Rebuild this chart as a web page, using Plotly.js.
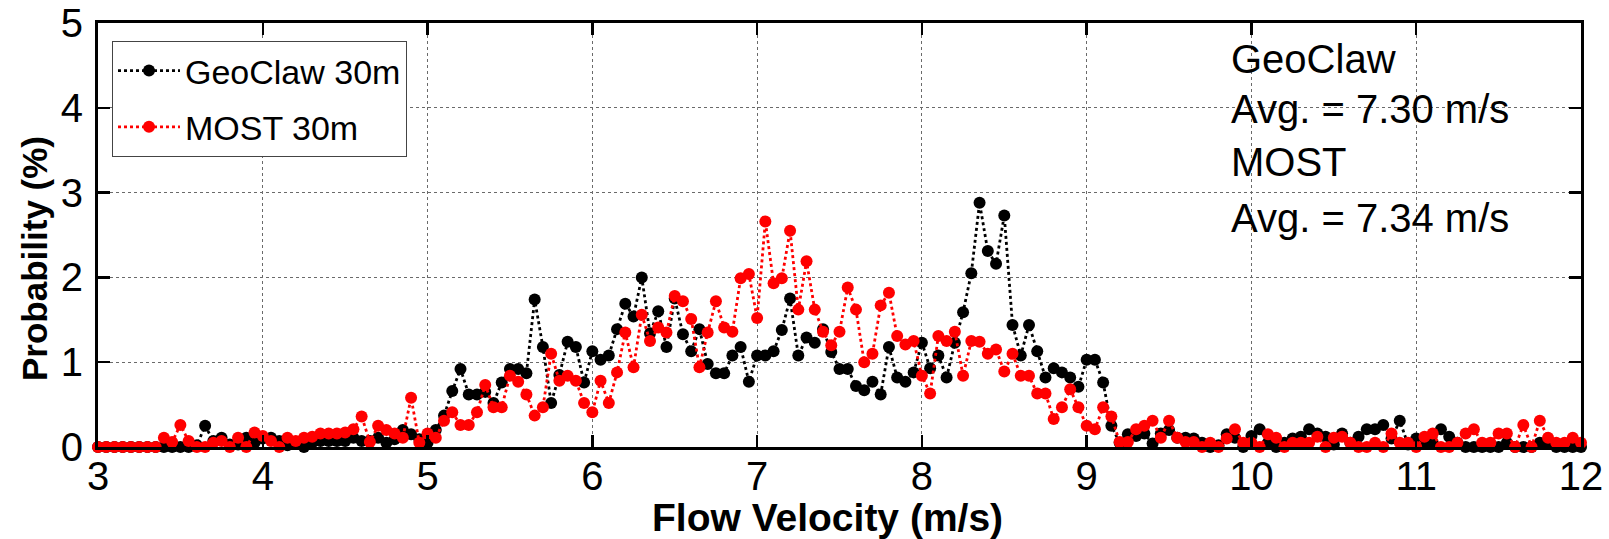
<!DOCTYPE html>
<html>
<head>
<meta charset="utf-8">
<script src="https://cdn.plot.ly/plotly-3.0.1.min.js"></script>
<style>
  html, body { margin: 0; padding: 0; background: #fff; }
  #chart { width: 1609px; height: 539px; }
</style>
</head>
<body>
<div id="chart"></div>
<script>
// Flow velocity bins (m/s)
const velocity = [
  3.00,3.05,3.10,3.15,3.20,3.25,3.30,3.35,3.40,3.45,3.50,3.55,3.60,3.65,3.70,3.75,3.80,3.85,3.90,3.95,
  4.00,4.05,4.10,4.15,4.20,4.25,4.30,4.35,4.40,4.45,4.50,4.55,4.60,4.65,4.70,4.75,4.80,4.85,4.90,4.95,
  5.00,5.05,5.10,5.15,5.20,5.25,5.30,5.35,5.40,5.45,5.50,5.55,5.60,5.65,5.70,5.75,5.80,5.85,5.90,5.95,
  6.00,6.05,6.10,6.15,6.20,6.25,6.30,6.35,6.40,6.45,6.50,6.55,6.60,6.65,6.70,6.75,6.80,6.85,6.90,6.95,
  7.00,7.05,7.10,7.15,7.20,7.25,7.30,7.35,7.40,7.45,7.50,7.55,7.60,7.65,7.70,7.75,7.80,7.85,7.90,7.95,
  8.00,8.05,8.10,8.15,8.20,8.25,8.30,8.35,8.40,8.45,8.50,8.55,8.60,8.65,8.70,8.75,8.80,8.85,8.90,8.95,
  9.00,9.05,9.10,9.15,9.20,9.25,9.30,9.35,9.40,9.45,9.50,9.55,9.60,9.65,9.70,9.75,9.80,9.85,9.90,9.95,
  10.00,10.05,10.10,10.15,10.20,10.25,10.30,10.35,10.40,10.45,10.50,10.55,10.60,10.65,10.70,10.75,10.80,10.85,10.90,10.95,
  11.00,11.05,11.10,11.15,11.20,11.25,11.30,11.35,11.40,11.45,11.50,11.55,11.60,11.65,11.70,11.75,11.80,11.85,11.90,11.95,
  12.00
];

// GeoClaw 30m probability (%)
const geoclaw = [
  0,0,0,0,0,0,0,0,0,0,0,0,0.02,0.25,0.07,0.11,0.03,0.03,0.11,0.05,
  0.10,0.11,0.07,0.02,0.05,0,0.05,0.07,0.07,0.07,0.07,0.11,0.07,0.07,0.11,0.05,0.09,0.20,0.15,0.09,
  0.05,0.20,0.37,0.66,0.92,0.62,0.62,0.65,0.52,0.76,0.92,0.92,0.87,1.74,1.18,0.52,0.85,1.24,1.18,0.76,
  1.13,1.03,1.08,1.39,1.69,1.54,2.00,1.34,1.60,1.18,1.75,1.33,1.13,1.39,0.98,0.87,0.87,1.08,1.18,0.77,
  1.08,1.08,1.13,1.38,1.75,1.08,1.29,1.23,1.39,1.12,0.92,0.92,0.72,0.67,0.77,0.62,1.18,0.82,0.77,0.88,
  1.23,0.93,1.08,0.82,1.23,1.59,2.05,2.88,2.31,2.16,2.73,1.44,1.08,1.44,1.13,0.82,0.93,0.88,0.82,0.71,
  1.03,1.03,0.76,0.25,0.05,0.15,0.13,0.16,0.04,0.16,0.20,0.11,0.11,0.10,0.05,0,0.02,0.15,0.11,0,
  0.13,0.21,0.05,0,0.05,0.10,0.12,0.21,0.16,0.12,0.03,0.16,0.05,0.12,0.21,0.21,0.26,0.10,0.31,0.03,
  0.10,0.05,0.05,0.21,0.12,0.05,0,0,0,0,0,0.05,0,0,0,0.05,0.05,0,0,0,
  0
];

// MOST 30m probability (%)
const most = [
  0,0,0,0,0,0,0,0,0.11,0.06,0.26,0.07,0,0,0.05,0.07,0,0.11,0,0.17,
  0.13,0.07,0,0.11,0.07,0.11,0.12,0.16,0.16,0.16,0.17,0.21,0.36,0.06,0.25,0.20,0.16,0.11,0.58,0.05,
  0.16,0.11,0.31,0.41,0.26,0.26,0.41,0.73,0.47,0.47,0.84,0.77,0.62,0.37,0.47,1.10,0.78,0.84,0.78,0.52,
  0.41,0.78,0.52,0.88,1.35,0.94,1.56,1.25,1.41,1.35,1.78,1.72,1.51,0.94,1.35,1.72,1.41,1.36,1.99,2.04,
  1.52,2.66,1.93,1.99,2.55,1.62,2.19,1.62,1.36,1.20,1.36,1.88,1.62,1.00,1.10,1.67,1.82,1.31,1.21,1.25,
  0.84,0.63,1.31,1.25,1.36,0.84,1.25,1.24,1.10,1.15,0.89,1.10,0.84,0.84,0.63,0.63,0.33,0.47,0.68,0.47,
  0.25,0.21,0.47,0.36,0.06,0.06,0.21,0.25,0.31,0.11,0.31,0.11,0.06,0.06,0,0.05,0,0.10,0.21,0.05,
  0.05,0,0.15,0.11,0,0.05,0.05,0.05,0.12,0,0.11,0.12,0.05,0,0,0.05,0,0.16,0.05,0.05,
  0,0.12,0.16,0,0,0.05,0.16,0.21,0.05,0.05,0.16,0.16,0,0.26,0,0.31,0.11,0.05,0.05,0.11,
  0.05
];

const seriesNames = ['GeoClaw 30m', 'MOST 30m'];
const seriesColors = ['#000000', '#ff0000'];
const xTicks = [3,4,5,6,7,8,9,10,11,12];
const yTicks = [0,1,2,3,4,5];
const noteLines = ['GeoClaw', 'Avg. = 7.30 m/s', 'MOST', 'Avg. = 7.34 m/s'];
const xTitle = 'Flow Velocity (m/s)';
const yTitle = 'Probability (%)';

const FONT = 'Arial, "Liberation Sans", Helvetica, sans-serif';

// plot area geometry (px)
const L = 98, R = 28, T = 23, B = 92, W = 1609, H = 539;
const PW = W - L - R, PH = H - T - B;
const px = v => (v - L) / PW;          // page x -> paper x
const py = v => (H - B - v) / PH;      // page y -> paper y

function mkTrace(y, i) {
  return {
    x: velocity, y: y, type: 'scatter', mode: 'lines+markers',
    name: seriesNames[i], legendgroup: 'g' + i,
    line: { color: seriesColors[i], width: 2.8, dash: 'dot' },
    marker: { color: seriesColors[i], size: 12, line: { width: 0 } },
    cliponaxis: false
  };
}

const traces = [mkTrace(geoclaw, 0), mkTrace(most, 1)];

const axisCommon = {
  showline: true, linecolor: '#000', linewidth: 3, mirror: 'ticks',
  ticks: 'inside', ticklen: 12, tickwidth: 2.5, tickcolor: '#000',
  showgrid: true, gridcolor: '#6a6a6a', gridwidth: 1, griddash: 'dot',
  zeroline: false, tickfont: { family: FONT, size: 40, color: '#000' }
};

const annotations = noteLines.map((t, k) => ({
  text: t, xref: 'paper', yref: 'paper',
  x: px(1229), xanchor: 'left',
  y: py([59, 109, 162, 218][k]), yanchor: 'middle',
  showarrow: false, font: { family: FONT, size: 40, color: '#000' }
}));
annotations.push({
  text: '<b>' + xTitle + '</b>', xref: 'paper', yref: 'paper',
  x: px(827), y: py(517), xanchor: 'center', yanchor: 'middle',
  showarrow: false, font: { family: FONT, size: 39, color: '#000' }
});
annotations.push({
  text: '<b>' + yTitle + '</b>', xref: 'paper', yref: 'paper',
  x: px(34), y: py(259), xanchor: 'center', yanchor: 'middle', textangle: -90,
  showarrow: false, font: { family: FONT, size: 35, color: '#000' }
});

const layout = {
  width: W, height: H,
  margin: { l: L, r: R, t: T, b: B, pad: 0 },
  paper_bgcolor: '#fff', plot_bgcolor: '#fff',
  font: { family: FONT, color: '#000' },
  xaxis: Object.assign({}, axisCommon, {
    range: [3, 12], tickvals: xTicks, ticktext: xTicks.map(String), ticklabelstandoff: -8
  }),
  yaxis: Object.assign({}, axisCommon, {
    range: [0, 5], tickvals: yTicks, ticktext: yTicks.map(String), ticklabelstandoff: 4
  }),
  showlegend: true,
  legend: {
    x: px(112), y: py(41), xanchor: 'left', yanchor: 'top',
    bgcolor: '#fff', bordercolor: '#444', borderwidth: 1,
    font: { family: FONT, size: 34, color: '#000' },
    traceorder: 'grouped', tracegroupgap: 9, itemwidth: 62
  },
  annotations: annotations
};

Plotly.newPlot('chart', traces, layout, { staticPlot: true, displayModeBar: false });
</script>
</body>
</html>
